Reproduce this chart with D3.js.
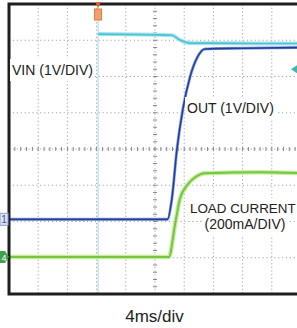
<!DOCTYPE html>
<html lang="en">
<head>
<meta charset="UTF-8" />
<script src="https://d3js.org/d3.v7.min.js"></script>
<style>
  body { margin: 0; background: #fff; }
  svg { display: block; font-family: "Liberation Sans", Arial, sans-serif; }
</style>
</head>
<body>
<div id="chart"></div>
<script>
  // scope settings: 4ms/div horizontal, 8 vertical divisions
  const timeDomain = [-20, 20];      // ms
  const divDomain = [-4, 4];         // vertical divisions
  const triggerMs = -7.8;

  // VIN (1V/DIV), ground shared with channel 1
  const vinTime = [-7.8, 2.3, 3.4, 4.8, 8, 14, 21];
  const vinVolt = [5.11, 5.08, 4.95, 4.86, 4.86, 4.85, 4.85];

  // OUT (1V/DIV), channel 1
  const outTime = [-21, 1.7, 2.3, 3.0, 3.8, 4.8, 5.75, 6.85, 12, 21];
  const outVolt = [0, 0, 0.55, 1.92, 3.02, 3.93, 4.45, 4.7, 4.72, 4.74];
  const outOffsetDiv = -1.94;

  // LOAD CURRENT (200mA/DIV), channel 4
  const loadTime = [-21, 1.9, 2.75, 3.4, 4.4, 5.5, 6.85, 14.4, 21];
  const loadMa = [0, 0, 181, 319, 396, 440, 462, 468, 462];
  const loadOffsetDiv = -2.98;

  const width = 297, height = 328;
  const plot = { left: 9, right: 301, top: 4, bottom: 294 };

  const svg = d3.select("#chart").append("svg")
    .attr("width", width)
    .attr("height", height);

  const x = d3.scaleLinear().domain(timeDomain).range([plot.left, plot.right]);
  const y = d3.scaleLinear().domain(divDomain).range([plot.bottom, plot.top]);

  // grid
  const grid = svg.append("g");
  grid.selectAll(".gx")
    .data(d3.range(-20, 21, 4))
    .enter().append("line")
    .attr("x1", d => x(d)).attr("x2", d => x(d))
    .attr("y1", plot.top).attr("y2", plot.bottom)
    .attr("stroke", "#a4a4a4").attr("stroke-width", 1)
    .attr("stroke-dasharray", "1.2,2.45");
  grid.selectAll(".gy")
    .data(d3.range(-4, 5, 1))
    .enter().append("line")
    .attr("y1", d => y(d)).attr("y2", d => y(d))
    .attr("x1", plot.left).attr("x2", plot.right)
    .attr("stroke", "#a4a4a4").attr("stroke-width", 1)
    .attr("stroke-dasharray", "1.2,2.7");

  // minor ticks on the centre axes
  grid.selectAll(".tx")
    .data(d3.range(-20, 20.01, 0.8))
    .enter().append("line")
    .attr("x1", d => x(d)).attr("x2", d => x(d))
    .attr("y1", y(0) - 2).attr("y2", y(0) + 2)
    .attr("stroke", "#888");
  grid.selectAll(".ty")
    .data(d3.range(-4, 4.01, 0.2))
    .enter().append("line")
    .attr("y1", d => y(d)).attr("y2", d => y(d))
    .attr("x1", x(0) - 2).attr("x2", x(0) + 2)
    .attr("stroke", "#888");

  // trigger position line
  svg.append("line")
    .attr("x1", x(triggerMs)).attr("x2", x(triggerMs))
    .attr("y1", plot.top).attr("y2", plot.bottom)
    .attr("stroke", "#bfe6ee").attr("stroke-width", 1.5);

  const line = d3.line().curve(d3.curveMonotoneX);

  // VIN
  const vinPts = vinTime.map((t, i) => [x(t), y(outOffsetDiv + vinVolt[i])]);
  svg.append("path").attr("d", line(vinPts))
    .attr("fill", "none").attr("stroke", "#a8e4ec").attr("stroke-width", 4);
  svg.append("path").attr("d", line(vinPts))
    .attr("fill", "none").attr("stroke", "#4cc3d3").attr("stroke-width", 1.6);

  // LOAD CURRENT
  const loadPts = loadTime.map((t, i) => [x(t), y(loadOffsetDiv + loadMa[i] / 200)]);
  svg.append("path").attr("d", line(loadPts))
    .attr("fill", "none").attr("stroke", "#c6ec9e").attr("stroke-width", 4.5);
  svg.append("path").attr("d", line(loadPts))
    .attr("fill", "none").attr("stroke", "#74c640").attr("stroke-width", 2);

  // OUT
  const outPts = outTime.map((t, i) => [x(t), y(outOffsetDiv + outVolt[i])]);
  svg.append("path").attr("d", line(outPts))
    .attr("fill", "none").attr("stroke", "#8fa3d8").attr("stroke-width", 3);
  svg.append("path").attr("d", line(outPts))
    .attr("fill", "none").attr("stroke", "#1f3f9e").attr("stroke-width", 1.6);

  // frame
  svg.append("rect")
    .attr("x", plot.left).attr("y", plot.top)
    .attr("width", plot.right - plot.left).attr("height", plot.bottom - plot.top)
    .attr("fill", "none").attr("stroke", "#1e1e1e").attr("stroke-width", 3);

  // channel markers
  svg.append("rect")
    .attr("x", 0).attr("y", y(outOffsetDiv) - 6).attr("width", 8).attr("height", 12)
    .attr("fill", "#dde3f4").attr("stroke", "#8c9cd0");
  svg.append("text")
    .attr("x", 4).attr("y", y(outOffsetDiv) + 4)
    .attr("text-anchor", "middle").attr("font-size", "10px").attr("fill", "#3b55a8")
    .text("1");
  svg.append("path")
    .attr("d", `M0,${y(loadOffsetDiv) - 6}L5,${y(loadOffsetDiv) - 6}L9,${y(loadOffsetDiv)}L5,${y(loadOffsetDiv) + 6}L0,${y(loadOffsetDiv) + 6}Z`)
    .attr("fill", "#3fa24a");
  svg.append("text")
    .attr("x", 4).attr("y", y(loadOffsetDiv) + 3.5)
    .attr("text-anchor", "middle").attr("font-size", "9px").attr("fill", "#fff")
    .text("4");

  // trigger marker
  svg.append("rect")
    .attr("x", x(triggerMs) - 3.5).attr("y", 9).attr("width", 7).attr("height", 11)
    .attr("fill", "#f0a070").attr("stroke", "#e07a3a");
  svg.append("path")
    .attr("d", `M${x(triggerMs) - 3},${plot.top - 2}L${x(triggerMs) + 3},${plot.top - 2}L${x(triggerMs)},${plot.top + 4}Z`)
    .attr("fill", "#e0602a");

  // right edge trigger level marker
  svg.append("path")
    .attr("d", `M291,${y(2.2)}L297,${y(2.2) - 4}L297,${y(2.2) + 4}Z`)
    .attr("fill", "#3fb6b0");

  // labels with white backing
  function label(txt, lx, ly, anchor, size) {
    const t = svg.append("text")
      .attr("x", lx).attr("y", ly)
      .attr("text-anchor", anchor)
      .attr("font-size", size + "px").attr("fill", "#222")
      .text(txt);
    const b = t.node().getBBox();
    svg.insert("rect", () => t.node())
      .attr("x", b.x - 2).attr("y", b.y - 3)
      .attr("width", b.width + 4).attr("height", b.height + 6)
      .attr("fill", "#fff");
  }
  label("VIN (1V/DIV)", 12, 75, "start", 14);
  label("OUT (1V/DIV)", 187, 113, "start", 14);
  label("LOAD CURRENT", 190, 213, "start", 13.4);
  label("(200mA/DIV)", 245, 229, "middle", 14);

  svg.append("text")
    .attr("x", 154.5).attr("y", 322)
    .attr("text-anchor", "middle")
    .attr("font-size", "17px").attr("fill", "#222")
    .text("4ms/div");
</script>
</body>
</html>
